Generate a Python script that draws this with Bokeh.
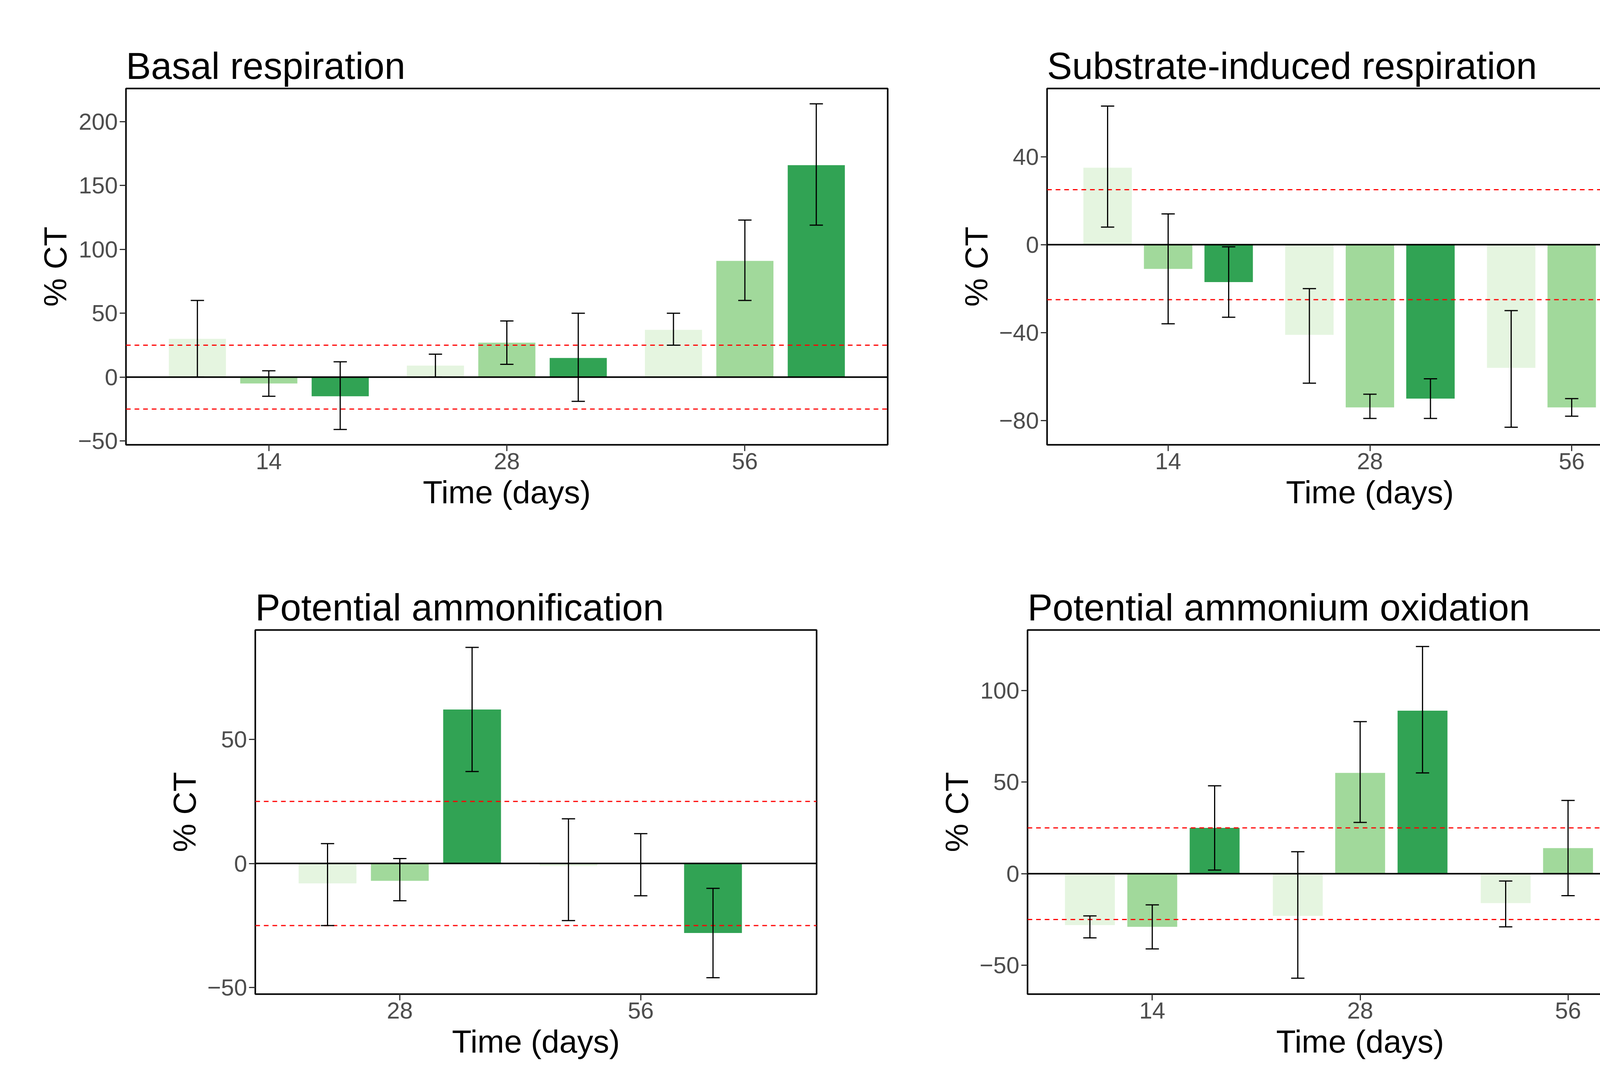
from bokeh.plotting import figure
from bokeh.models import Span, Whisker, ColumnDataSource, FixedTicker, Legend, LegendItem, TeeHead, Range1d
from bokeh.layouts import column, row
from bokeh.embed import file_html
from bokeh.resources import INLINE

groups = ["MEC", "PEC", "5PEC"]
colors = ["#e5f5e0", "#a1d99b", "#31a354"]

br_days = ["14", "28", "56"]
br_mean = {"MEC": [30, 9, 37], "PEC": [-5, 27, 91], "5PEC": [-15, 15, 166]}
br_low = {"MEC": [0, 0, 25], "PEC": [-15, 10, 60], "5PEC": [-41, -19, 119]}
br_high = {"MEC": [60, 18, 50], "PEC": [5, 44, 123], "5PEC": [12, 50, 214]}

sir_days = ["14", "28", "56"]
sir_mean = {"MEC": [35, -41, -56], "PEC": [-11, -74, -74], "5PEC": [-17, -70, -78]}
sir_low = {"MEC": [8, -63, -83], "PEC": [-36, -79, -78], "5PEC": [-33, -79, -81]}
sir_high = {"MEC": [63, -20, -30], "PEC": [14, -68, -70], "5PEC": [-1, -61, -75]}

pa_days = ["28", "56"]
pa_mean = {"MEC": [-8, -1], "PEC": [-7, 0], "5PEC": [62, -28]}
pa_low = {"MEC": [-25, -23], "PEC": [-15, -13], "5PEC": [37, -46]}
pa_high = {"MEC": [8, 18], "PEC": [2, 12], "5PEC": [87, -10]}

pao_days = ["14", "28", "56"]
pao_mean = {"MEC": [-28, -23, -16], "PEC": [-29, 55, 14], "5PEC": [25, 89, -4]}
pao_low = {"MEC": [-35, -57, -29], "PEC": [-41, 28, -12], "5PEC": [2, 55, -24]}
pao_high = {"MEC": [-23, 12, -4], "PEC": [-17, 83, 40], "5PEC": [48, 124, 16]}


def panel(title, days, mean, low, high, xr, yr, yticks, size, borders, legend=False):
    l, r, t, b = borders
    w, h = size
    p = figure(title=title, output_backend="svg", toolbar_location=None,
               width=w, height=h, min_border_left=l, min_border_right=r,
               min_border_top=t, min_border_bottom=b,
               x_range=Range1d(*xr), y_range=Range1d(*yr))
    p.title.text_font = "Liberation Sans"
    p.title.text_font_size = "96px"
    p.title.text_font_style = "normal"
    p.title.text_color = "black"
    p.title.align = "left"
    p.grid.visible = False
    p.outline_line_color = "black"
    p.outline_line_width = 4
    p.background_fill_color = "white"
    p.border_fill_color = "white"
    for ax in (p.xaxis, p.yaxis):
        ax.axis_line_color = None
        ax.major_tick_line_width = 3
        ax.major_tick_line_color = "#333333"
        ax.major_tick_out = 16
        ax.major_tick_in = 0
        ax.minor_tick_line_color = None
        ax.major_label_text_font = "Liberation Sans"
        ax.major_label_text_font_size = "60px"
        ax.major_label_text_color = "#4d4d4d"
        ax.axis_label_text_font = "Liberation Sans"
        ax.axis_label_text_font_size = "82px"
        ax.axis_label_text_font_style = "normal"
        ax.axis_label_text_color = "black"
        ax.axis_label_standoff = 10
    p.xaxis.axis_label = "Time (days)"
    p.yaxis.axis_label = "% CT"
    p.xaxis.ticker = FixedTicker(ticks=list(range(1, len(days) + 1)))
    p.xaxis.major_label_overrides = {i + 1: d for i, d in enumerate(days)}
    p.yaxis.ticker = FixedTicker(ticks=yticks)
    for v in (25, -25):
        p.add_layout(Span(location=v, dimension="width", line_color="red", line_width=3, line_dash="12 10"))
    items = []
    offs = [-0.3, 0, 0.3]
    for g, c, o in zip(groups, colors, offs):
        xs = [i + 1 + o for i in range(len(days))]
        src = ColumnDataSource(dict(x=xs, top=mean[g], lo=low[g], hi=high[g]))
        rr = p.vbar(x="x", top="top", bottom=0, width=0.24, source=src, fill_color=c, line_color=None)
        items.append(LegendItem(label=g, renderers=[rr]))
        wk = Whisker(base="x", upper="hi", lower="lo", source=src, line_width=3, line_color="black",
                     level="overlay",
                     upper_head=TeeHead(size=34, line_width=3, line_color="black"),
                     lower_head=TeeHead(size=34, line_width=3, line_color="black"))
        p.add_layout(wk)
    p.add_layout(Span(location=0, dimension="width", line_color="black", line_width=4))
    if legend:
        lg = Legend(items=items, location="center", label_text_font="Liberation Sans",
                    label_text_font_size="60px", glyph_width=60, glyph_height=60,
                    label_height=60, spacing=6, border_line_color=None, padding=0,
                    margin=60, background_fill_alpha=0, label_standoff=20)
        p.add_layout(lg, "right")
    return p


p1 = panel("Basal respiration", br_days, br_mean, br_low, br_high, (0.4, 3.6), (-53, 226),
           [-50, 0, 50, 100, 150, 200], (2450, 1400), (322, 178, 199, 262))
p2 = panel("Substrate-induced respiration", sir_days, sir_mean, sir_low, sir_high, (0.4, 3.6), (-91, 71),
           [-80, -40, 0, 40], (2680, 1400), (230, 120, 226, 232), legend=True)
p3 = panel("Potential ammonification", pa_days, pa_mean, pa_low, pa_high, (0.4, 2.73), (-52.6, 94),
           [-50, 0, 50], (2400, 1375), (653, 310, 202, 231))
p4 = panel("Potential ammonium oxidation", pao_days, pao_mean, pao_low, pao_high, (0.4, 3.6), (-65.7, 133),
           [-50, 0, 50, 100], (2730, 1375), (230, 180, 212, 221), legend=True)

layout = column(row(p1, p2), row(p3, p4))
open("out.html", "w").write(file_html(layout, INLINE))
